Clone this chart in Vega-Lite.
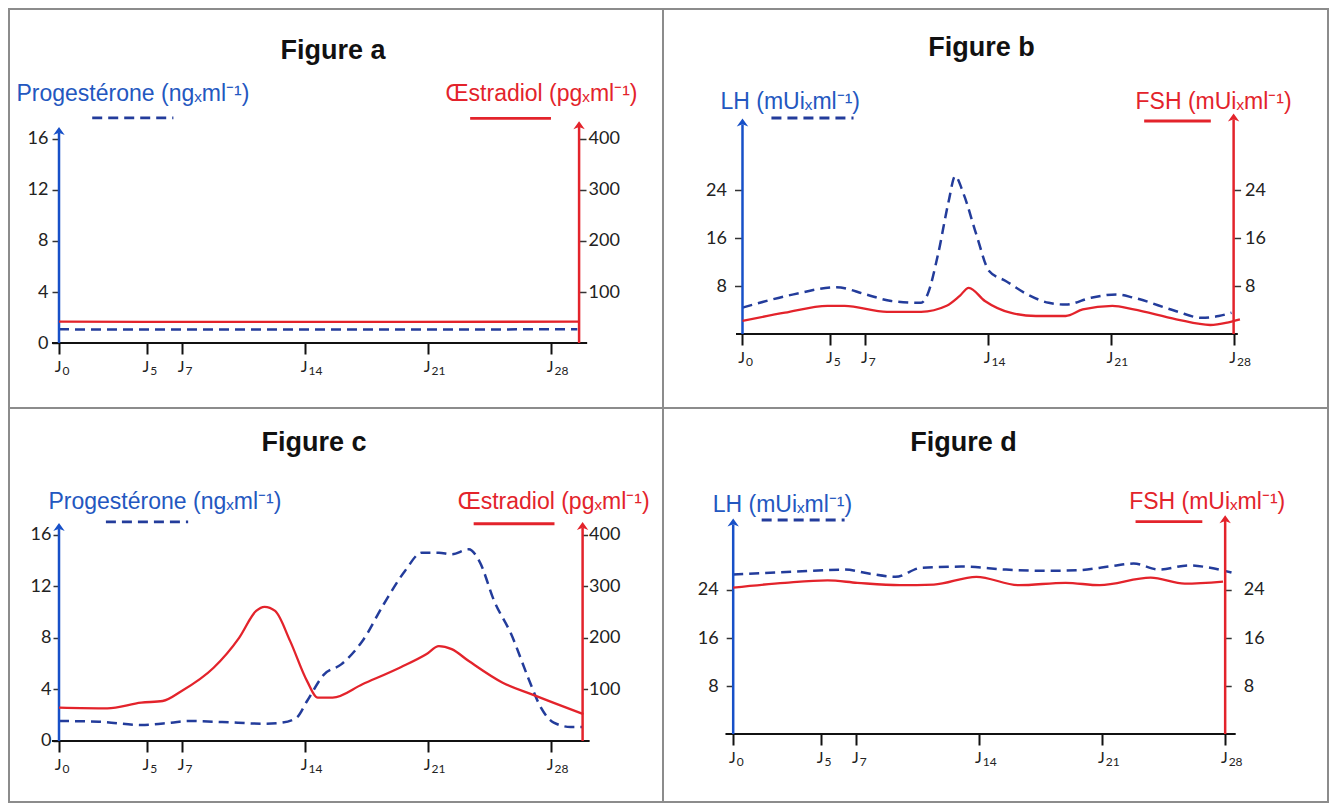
{
  "$schema": "https://vega.github.io/schema/vega-lite/v6.json",
  "padding": {"left": 8, "top": 8, "right": 0, "bottom": 0},
  "background": "white",
  "config": {
    "view": {"stroke": "#8c8c8c", "strokeWidth": 2},
    "axis": {"grid": false, "domain": false, "labelFont": "Lato, DejaVu Sans", "labelFontSize": 18, "labelColor": "#222", "tickColor": "#333", "tickWidth": 1.5, "titleFont": "Liberation Sans", "titleFontSize": 23, "titleFontWeight": "normal", "labelOverlap": false},
    "title": {"font": "Liberation Sans", "fontSize": 27, "fontWeight": "bold", "color": "#111"}
  },
  "data": {"values": [
    {"panel": "a", "hormone": "Progestérone", "day": 0, "value": 1.07},
    {"panel": "a", "hormone": "Progestérone", "day": 10, "value": 1.06},
    {"panel": "a", "hormone": "Progestérone", "day": 20, "value": 1.06},
    {"panel": "a", "hormone": "Progestérone", "day": 29.5, "value": 1.08},
    {"panel": "a", "hormone": "Œstradiol", "day": 0, "value": 41.8},
    {"panel": "a", "hormone": "Œstradiol", "day": 10, "value": 41.5},
    {"panel": "a", "hormone": "Œstradiol", "day": 20, "value": 41.5},
    {"panel": "a", "hormone": "Œstradiol", "day": 29.6, "value": 41.8},

    {"panel": "b", "hormone": "LH", "day": 0, "value": 4.4},
    {"panel": "b", "hormone": "LH", "day": 2.91, "value": 6.6},
    {"panel": "b", "hormone": "LH", "day": 5.34, "value": 7.8},
    {"panel": "b", "hormone": "LH", "day": 7.03, "value": 6.6},
    {"panel": "b", "hormone": "LH", "day": 8.48, "value": 5.5},
    {"panel": "b", "hormone": "LH", "day": 10.18, "value": 5.2},
    {"panel": "b", "hormone": "LH", "day": 10.55, "value": 6.6},
    {"panel": "b", "hormone": "LH", "day": 11.15, "value": 13.3},
    {"panel": "b", "hormone": "LH", "day": 11.76, "value": 22.2},
    {"panel": "b", "hormone": "LH", "day": 12.12, "value": 26.3},
    {"panel": "b", "hormone": "LH", "day": 12.61, "value": 23.3},
    {"panel": "b", "hormone": "LH", "day": 13.33, "value": 16.6},
    {"panel": "b", "hormone": "LH", "day": 14.06, "value": 10.5},
    {"panel": "b", "hormone": "LH", "day": 15.03, "value": 8.8},
    {"panel": "b", "hormone": "LH", "day": 16.24, "value": 6.6},
    {"panel": "b", "hormone": "LH", "day": 17.46, "value": 5.2},
    {"panel": "b", "hormone": "LH", "day": 18.43, "value": 4.9},
    {"panel": "b", "hormone": "LH", "day": 19.88, "value": 6.05},
    {"panel": "b", "hormone": "LH", "day": 21.33, "value": 6.6},
    {"panel": "b", "hormone": "LH", "day": 22.3, "value": 6.05},
    {"panel": "b", "hormone": "LH", "day": 24.73, "value": 3.8},
    {"panel": "b", "hormone": "LH", "day": 26.18, "value": 2.7},
    {"panel": "b", "hormone": "LH", "day": 27.15, "value": 3.0},
    {"panel": "b", "hormone": "LH", "day": 27.88, "value": 3.55},
    {"panel": "b", "hormone": "FSH", "day": 0, "value": 2.2},
    {"panel": "b", "hormone": "FSH", "day": 2.42, "value": 3.55},
    {"panel": "b", "hormone": "FSH", "day": 4.85, "value": 4.7},
    {"panel": "b", "hormone": "FSH", "day": 5.82, "value": 4.7},
    {"panel": "b", "hormone": "FSH", "day": 8.24, "value": 3.7},
    {"panel": "b", "hormone": "FSH", "day": 10.18, "value": 3.7},
    {"panel": "b", "hormone": "FSH", "day": 11.64, "value": 4.7},
    {"panel": "b", "hormone": "FSH", "day": 12.37, "value": 6.3},
    {"panel": "b", "hormone": "FSH", "day": 12.9, "value": 7.7},
    {"panel": "b", "hormone": "FSH", "day": 13.82, "value": 5.5},
    {"panel": "b", "hormone": "FSH", "day": 15.27, "value": 3.55},
    {"panel": "b", "hormone": "FSH", "day": 16.73, "value": 3.0},
    {"panel": "b", "hormone": "FSH", "day": 18.43, "value": 3.0},
    {"panel": "b", "hormone": "FSH", "day": 19.4, "value": 4.1},
    {"panel": "b", "hormone": "FSH", "day": 21.09, "value": 4.7},
    {"panel": "b", "hormone": "FSH", "day": 22.3, "value": 4.1},
    {"panel": "b", "hormone": "FSH", "day": 24.73, "value": 2.45},
    {"panel": "b", "hormone": "FSH", "day": 26.67, "value": 1.5},
    {"panel": "b", "hormone": "FSH", "day": 27.64, "value": 1.9},
    {"panel": "b", "hormone": "FSH", "day": 28.36, "value": 2.45},

    {"panel": "c", "hormone": "Progestérone", "day": 0, "value": 1.55},
    {"panel": "c", "hormone": "Progestérone", "day": 2.26, "value": 1.5},
    {"panel": "c", "hormone": "Progestérone", "day": 4.68, "value": 1.24},
    {"panel": "c", "hormone": "Progestérone", "day": 6.38, "value": 1.42},
    {"panel": "c", "hormone": "Progestérone", "day": 7.35, "value": 1.55},
    {"panel": "c", "hormone": "Progestérone", "day": 9.28, "value": 1.47},
    {"panel": "c", "hormone": "Progestérone", "day": 11.7, "value": 1.34},
    {"panel": "c", "hormone": "Progestérone", "day": 12.67, "value": 1.42},
    {"panel": "c", "hormone": "Progestérone", "day": 13.52, "value": 1.81},
    {"panel": "c", "hormone": "Progestérone", "day": 14.12, "value": 3.1},
    {"panel": "c", "hormone": "Progestérone", "day": 15.09, "value": 5.17},
    {"panel": "c", "hormone": "Progestérone", "day": 16.06, "value": 5.94},
    {"panel": "c", "hormone": "Progestérone", "day": 17.27, "value": 7.75},
    {"panel": "c", "hormone": "Progestérone", "day": 18.48, "value": 10.6},
    {"panel": "c", "hormone": "Progestérone", "day": 19.69, "value": 13.18},
    {"panel": "c", "hormone": "Progestérone", "day": 20.65, "value": 14.6},
    {"panel": "c", "hormone": "Progestérone", "day": 21.62, "value": 14.6},
    {"panel": "c", "hormone": "Progestérone", "day": 22.35, "value": 14.47},
    {"panel": "c", "hormone": "Progestérone", "day": 23.32, "value": 14.86},
    {"panel": "c", "hormone": "Progestérone", "day": 23.92, "value": 13.95},
    {"panel": "c", "hormone": "Progestérone", "day": 24.77, "value": 10.85},
    {"panel": "c", "hormone": "Progestérone", "day": 25.74, "value": 8.27},
    {"panel": "c", "hormone": "Progestérone", "day": 26.7, "value": 4.91},
    {"panel": "c", "hormone": "Progestérone", "day": 27.43, "value": 2.58},
    {"panel": "c", "hormone": "Progestérone", "day": 28.16, "value": 1.42},
    {"panel": "c", "hormone": "Progestérone", "day": 29.12, "value": 1.09},
    {"panel": "c", "hormone": "Progestérone", "day": 29.8, "value": 1.09},
    {"panel": "c", "hormone": "Œstradiol", "day": 0, "value": 64.6},
    {"panel": "c", "hormone": "Œstradiol", "day": 2.75, "value": 63.3},
    {"panel": "c", "hormone": "Œstradiol", "day": 4.68, "value": 74.3},
    {"panel": "c", "hormone": "Œstradiol", "day": 5.9, "value": 77.5},
    {"panel": "c", "hormone": "Œstradiol", "day": 6.98, "value": 96.9},
    {"panel": "c", "hormone": "Œstradiol", "day": 8.8, "value": 142},
    {"panel": "c", "hormone": "Œstradiol", "day": 10.25, "value": 200},
    {"panel": "c", "hormone": "Œstradiol", "day": 11.22, "value": 252},
    {"panel": "c", "hormone": "Œstradiol", "day": 11.7, "value": 260},
    {"panel": "c", "hormone": "Œstradiol", "day": 12.3, "value": 252},
    {"panel": "c", "hormone": "Œstradiol", "day": 13.15, "value": 194},
    {"panel": "c", "hormone": "Œstradiol", "day": 14.12, "value": 116},
    {"panel": "c", "hormone": "Œstradiol", "day": 14.73, "value": 84},
    {"panel": "c", "hormone": "Œstradiol", "day": 15.57, "value": 84},
    {"panel": "c", "hormone": "Œstradiol", "day": 17.27, "value": 110},
    {"panel": "c", "hormone": "Œstradiol", "day": 19.45, "value": 143},
    {"panel": "c", "hormone": "Œstradiol", "day": 20.9, "value": 168},
    {"panel": "c", "hormone": "Œstradiol", "day": 21.62, "value": 184},
    {"panel": "c", "hormone": "Œstradiol", "day": 22.35, "value": 178},
    {"panel": "c", "hormone": "Œstradiol", "day": 23.32, "value": 155},
    {"panel": "c", "hormone": "Œstradiol", "day": 25.25, "value": 113},
    {"panel": "c", "hormone": "Œstradiol", "day": 26.95, "value": 90},
    {"panel": "c", "hormone": "Œstradiol", "day": 28.16, "value": 74},
    {"panel": "c", "hormone": "Œstradiol", "day": 29.85, "value": 52},

    {"panel": "d", "hormone": "LH", "day": 0, "value": 26.6},
    {"panel": "d", "hormone": "LH", "day": 3.43, "value": 27.05},
    {"panel": "d", "hormone": "LH", "day": 6.34, "value": 27.4},
    {"panel": "d", "hormone": "LH", "day": 7.79, "value": 26.7},
    {"panel": "d", "hormone": "LH", "day": 9.24, "value": 26.2},
    {"panel": "d", "hormone": "LH", "day": 10.69, "value": 27.7},
    {"panel": "d", "hormone": "LH", "day": 13.11, "value": 27.9},
    {"panel": "d", "hormone": "LH", "day": 15.53, "value": 27.4},
    {"panel": "d", "hormone": "LH", "day": 17.96, "value": 27.2},
    {"panel": "d", "hormone": "LH", "day": 19.65, "value": 27.3},
    {"panel": "d", "hormone": "LH", "day": 21.58, "value": 28.0},
    {"panel": "d", "hormone": "LH", "day": 22.79, "value": 28.4},
    {"panel": "d", "hormone": "LH", "day": 24.25, "value": 27.4},
    {"panel": "d", "hormone": "LH", "day": 25.94, "value": 28.1},
    {"panel": "d", "hormone": "LH", "day": 27.15, "value": 27.7},
    {"panel": "d", "hormone": "LH", "day": 28.36, "value": 26.9},
    {"panel": "d", "hormone": "FSH", "day": 0, "value": 24.4},
    {"panel": "d", "hormone": "FSH", "day": 2.95, "value": 25.2},
    {"panel": "d", "hormone": "FSH", "day": 5.37, "value": 25.6},
    {"panel": "d", "hormone": "FSH", "day": 7.06, "value": 25.2},
    {"panel": "d", "hormone": "FSH", "day": 9.48, "value": 24.8},
    {"panel": "d", "hormone": "FSH", "day": 11.42, "value": 24.9},
    {"panel": "d", "hormone": "FSH", "day": 13.84, "value": 26.2},
    {"panel": "d", "hormone": "FSH", "day": 16.26, "value": 24.8},
    {"panel": "d", "hormone": "FSH", "day": 18.92, "value": 25.2},
    {"panel": "d", "hormone": "FSH", "day": 20.86, "value": 24.8},
    {"panel": "d", "hormone": "FSH", "day": 23.76, "value": 26.05},
    {"panel": "d", "hormone": "FSH", "day": 25.7, "value": 25.05},
    {"panel": "d", "hormone": "FSH", "day": 27.88, "value": 25.4}
  ]},
  "columns": 2,
  "spacing": 0,
  "bounds": "flush",
  "concat": [
        {
          "width": 654, "height": 399,
          "title": {"text": "Figure a", "frame": "group", "anchor": "middle", "baseline": "middle", "offset": -69, "dx": -3},
          "resolve": {"scale": {"y": "independent", "x": "independent"}},
          "layer": [
            {"layer": [
              {"transform": [{"filter": "datum.panel == 'a' && datum.hormone == 'Progestérone'"}],
               "mark": {"type": "line", "interpolate": "monotone", "color": "#233c9b", "strokeWidth": 2.5, "strokeDash": [10, 6]},
               "encoding": {
                 "x": {"field": "day", "type": "quantitative", "scale": {"domain": [-2.846, 34.376], "nice": false, "zero": false},
                       "axis": {"orient": "bottom", "values": [0, 5, 7, 14, 21, 28], "labelExpr": "'J'", "labelFont": "Lato", "labelFontSize": 16, "labelAlign": "right", "labelOffset": 2, "title": null, "offset": -65, "tickSize": 11, "tickWidth": 2, "tickColor": "#111", "labelPadding": 4}},
                 "y": {"field": "value", "type": "quantitative", "scale": {"domain": [-5.098, 26.196], "nice": false, "zero": false},
                       "axis": {"orient": "left", "values": [0, 4, 8, 12, 16], "offset": -50, "tickSize": 7, "labelPadding": 4, "title": "Progestérone (ngₓml⁻¹)", "titleAngle": 0, "titleAlign": "left", "titleBaseline": "middle", "titleX": -43, "titleY": 84, "titleColor": "#2357c0"}}
               }},
              {"data": {"values": [{}]}, "mark": {"type": "rule", "color": "#111", "strokeWidth": 2},
               "encoding": {"x": {"datum": -0.4, "type": "quantitative", "scale": {"domain": [-2.846, 34.376], "nice": false, "zero": false}}, "x2": {"datum": 30.06},
                            "y": {"datum": 0, "type": "quantitative", "scale": {"domain": [-5.098, 26.196], "nice": false, "zero": false}}}},
              {"data": {"values": [{}]}, "mark": {"type": "rule", "color": "#1750c8", "strokeWidth": 2.5},
               "encoding": {"x": {"datum": 0, "type": "quantitative", "scale": {"domain": [-2.846, 34.376], "nice": false, "zero": false}},
                            "y": {"datum": 0, "type": "quantitative", "scale": {"domain": [-5.098, 26.196], "nice": false, "zero": false}}, "y2": {"datum": 16.49}}},
              {"data": {"values": [{}]}, "mark": {"type": "point", "shape": "M0,-1L1,0.4L0,0L-1,0.4Z", "filled": true, "opacity": 1, "size": 130, "color": "#1750c8"},
               "encoding": {"x": {"datum": 0, "type": "quantitative", "scale": {"domain": [-2.846, 34.376], "nice": false, "zero": false}},
                            "y": {"datum": 16.49, "type": "quantitative", "scale": {"domain": [-5.098, 26.196], "nice": false, "zero": false}}}},
              {"data": {"values": [{}]}, "mark": {"type": "rule", "color": "#233c9b", "strokeWidth": 2.8, "strokeDash": [10, 6]},
               "encoding": {"x": {"datum": 1.89, "type": "quantitative", "scale": {"domain": [-2.846, 34.376], "nice": false, "zero": false}}, "x2": {"datum": 6.51},
                            "y": {"datum": 17.65, "type": "quantitative", "scale": {"domain": [-5.098, 26.196], "nice": false, "zero": false}}}}
            ]},
            {"layer": [
              {"transform": [{"filter": "datum.panel == 'a' && datum.hormone == 'Œstradiol'"}],
               "mark": {"type": "line", "interpolate": "monotone", "color": "#e3232b", "strokeWidth": 2.3},
               "encoding": {
                 "x": {"field": "day", "type": "quantitative", "scale": {"domain": [-2.846, 34.376], "nice": false, "zero": false},
                       "axis": {"orient": "bottom", "values": [0, 5, 7, 14, 21, 28], "format": "d", "labelFont": "Lato", "labelFontSize": 12, "labelAlign": "left", "labelOffset": 3, "title": null, "offset": -65, "tickSize": 11, "tickOpacity": 0, "labelPadding": 11}},
                 "y": {"field": "value", "type": "quantitative", "scale": {"domain": [-127.45, 654.9], "nice": false, "zero": false},
                       "axis": {"orient": "right", "values": [100, 200, 300, 400], "offset": -84, "tickSize": 7, "labelPadding": 2, "title": "Œstradiol (pgₓml⁻¹)", "titleAngle": 0, "titleAlign": "right", "titleBaseline": "middle", "titleX": 58, "titleY": 84, "titleColor": "#e3232b"}}
               }},
              {"data": {"values": [{}]}, "mark": {"type": "rule", "color": "#e3232b", "strokeWidth": 2.5},
               "encoding": {"x": {"datum": 29.6, "type": "quantitative", "scale": {"domain": [-2.846, 34.376], "nice": false, "zero": false}},
                            "y": {"datum": 0, "type": "quantitative", "scale": {"domain": [-127.45, 654.9], "nice": false, "zero": false}}, "y2": {"datum": 423.5}}},
              {"data": {"values": [{}]}, "mark": {"type": "point", "shape": "M0,-1L1,0.4L0,0L-1,0.4Z", "filled": true, "opacity": 1, "size": 130, "color": "#e3232b"},
               "encoding": {"x": {"datum": 29.6, "type": "quantitative", "scale": {"domain": [-2.846, 34.376], "nice": false, "zero": false}},
                            "y": {"datum": 423.5, "type": "quantitative", "scale": {"domain": [-127.45, 654.9], "nice": false, "zero": false}}}},
              {"data": {"values": [{}]}, "mark": {"type": "rule", "color": "#e3232b", "strokeWidth": 2.8},
               "encoding": {"x": {"datum": 23.4, "type": "quantitative", "scale": {"domain": [-2.846, 34.376], "nice": false, "zero": false}}, "x2": {"datum": 28.0},
                            "y": {"datum": 440.4, "type": "quantitative", "scale": {"domain": [-127.45, 654.9], "nice": false, "zero": false}}}}
            ]}
          ]
        },
        {
          "width": 665, "height": 399,
          "title": {"text": "Figure b", "frame": "group", "anchor": "middle", "baseline": "middle", "offset": -66, "dx": -14},
          "resolve": {"scale": {"y": "independent", "x": "independent"}},
          "layer": [
            {"layer": [
              {"transform": [{"filter": "datum.panel == 'b' && datum.hormone == 'LH'"}],
               "mark": {"type": "line", "interpolate": "monotone", "color": "#233c9b", "strokeWidth": 2.5, "strokeDash": [10, 6]},
               "encoding": {
                 "x": {"field": "day", "type": "quantitative", "scale": {"domain": [-4.532, 33.381], "nice": false, "zero": false},
                       "axis": {"orient": "bottom", "values": [0, 5, 7, 14, 21, 28], "labelExpr": "'J'", "labelFont": "Lato", "labelFontSize": 16, "labelAlign": "right", "labelOffset": 2, "title": null, "offset": -74, "tickSize": 11, "tickWidth": 2, "tickColor": "#111", "labelPadding": 4}},
                 "y": {"field": "value", "type": "quantitative", "scale": {"domain": [-12.333, 54.167], "nice": false, "zero": false},
                       "axis": {"orient": "left", "values": [8, 16, 24], "offset": -79.5, "tickSize": 8, "labelPadding": 8, "title": "LH (mUiₓml⁻¹)", "titleAngle": 0, "titleAlign": "left", "titleBaseline": "middle", "titleX": -22.5, "titleY": 92, "titleColor": "#2357c0"}}
               }},
              {"data": {"values": [{}]}, "mark": {"type": "rule", "color": "#111", "strokeWidth": 2},
               "encoding": {"x": {"datum": -0.37, "type": "quantitative", "scale": {"domain": [-4.532, 33.381], "nice": false, "zero": false}}, "x2": {"datum": 28.24},
                            "y": {"datum": 0, "type": "quantitative", "scale": {"domain": [-12.333, 54.167], "nice": false, "zero": false}}}},
              {"data": {"values": [{}]}, "mark": {"type": "rule", "color": "#1750c8", "strokeWidth": 2.5},
               "encoding": {"x": {"datum": 0, "type": "quantitative", "scale": {"domain": [-4.532, 33.381], "nice": false, "zero": false}},
                            "y": {"datum": 0, "type": "quantitative", "scale": {"domain": [-12.333, 54.167], "nice": false, "zero": false}}, "y2": {"datum": 34.95}}},
              {"data": {"values": [{}]}, "mark": {"type": "point", "shape": "M0,-1L1,0.4L0,0L-1,0.4Z", "filled": true, "opacity": 1, "size": 130, "color": "#1750c8"},
               "encoding": {"x": {"datum": 0, "type": "quantitative", "scale": {"domain": [-4.532, 33.381], "nice": false, "zero": false}},
                            "y": {"datum": 34.95, "type": "quantitative", "scale": {"domain": [-12.333, 54.167], "nice": false, "zero": false}}}},
              {"data": {"values": [{}]}, "mark": {"type": "rule", "color": "#233c9b", "strokeWidth": 2.8, "strokeDash": [10, 6]},
               "encoding": {"x": {"datum": 1.65, "type": "quantitative", "scale": {"domain": [-4.532, 33.381], "nice": false, "zero": false}}, "x2": {"datum": 6.33},
                            "y": {"datum": 36.0, "type": "quantitative", "scale": {"domain": [-12.333, 54.167], "nice": false, "zero": false}}}}
            ]},
            {"layer": [
              {"transform": [{"filter": "datum.panel == 'b' && datum.hormone == 'FSH'"}],
               "mark": {"type": "line", "interpolate": "monotone", "color": "#e3232b", "strokeWidth": 2.3},
               "encoding": {
                 "x": {"field": "day", "type": "quantitative", "scale": {"domain": [-4.532, 33.381], "nice": false, "zero": false},
                       "axis": {"orient": "bottom", "values": [0, 5, 7, 14, 21, 28], "format": "d", "labelFont": "Lato", "labelFontSize": 12, "labelAlign": "left", "labelOffset": 3, "title": null, "offset": -74, "tickSize": 11, "tickOpacity": 0, "labelPadding": 11}},
                 "y": {"field": "value", "type": "quantitative", "scale": {"domain": [-12.333, 54.167], "nice": false, "zero": false},
                       "axis": {"orient": "right", "values": [8, 16, 24], "offset": -94.4, "tickSize": 7, "labelPadding": 4, "title": "FSH (mUiₓml⁻¹)", "titleAngle": 0, "titleAlign": "right", "titleBaseline": "middle", "titleX": 57.5, "titleY": 92, "titleColor": "#e3232b"}}
               }},
              {"data": {"values": [{}]}, "mark": {"type": "rule", "color": "#e3232b", "strokeWidth": 2.5},
               "encoding": {"x": {"datum": 28, "type": "quantitative", "scale": {"domain": [-4.532, 33.381], "nice": false, "zero": false}},
                            "y": {"datum": 0, "type": "quantitative", "scale": {"domain": [-12.333, 54.167], "nice": false, "zero": false}}, "y2": {"datum": 35.8}}},
              {"data": {"values": [{}]}, "mark": {"type": "point", "shape": "M0,-1L1,0.4L0,0L-1,0.4Z", "filled": true, "opacity": 1, "size": 130, "color": "#e3232b"},
               "encoding": {"x": {"datum": 28, "type": "quantitative", "scale": {"domain": [-4.532, 33.381], "nice": false, "zero": false}},
                            "y": {"datum": 35.8, "type": "quantitative", "scale": {"domain": [-12.333, 54.167], "nice": false, "zero": false}}}},
              {"data": {"values": [{}]}, "mark": {"type": "rule", "color": "#e3232b", "strokeWidth": 2.8},
               "encoding": {"x": {"datum": 22.9, "type": "quantitative", "scale": {"domain": [-4.532, 33.381], "nice": false, "zero": false}}, "x2": {"datum": 26.7},
                            "y": {"datum": 35.5, "type": "quantitative", "scale": {"domain": [-12.333, 54.167], "nice": false, "zero": false}}}}
            ]}
          ]
        },
        {
          "width": 654, "height": 394,
          "title": {"text": "Figure c", "frame": "group", "anchor": "middle", "baseline": "middle", "offset": -62, "dx": -22},
          "resolve": {"scale": {"y": "independent", "x": "independent"}},
          "layer": [
            {"layer": [
              {"transform": [{"filter": "datum.panel == 'c' && datum.hormone == 'Progestérone'"}],
               "mark": {"type": "line", "interpolate": "monotone", "color": "#233c9b", "strokeWidth": 2.5, "strokeDash": [10, 6]},
               "encoding": {
                 "x": {"field": "day", "type": "quantitative", "scale": {"domain": [-2.846, 34.376], "nice": false, "zero": false},
                       "axis": {"orient": "bottom", "values": [0, 5, 7, 14, 21, 28], "labelExpr": "'J'", "labelFont": "Lato", "labelFontSize": 16, "labelAlign": "right", "labelOffset": 2, "title": null, "offset": -61, "tickSize": 11, "tickWidth": 2, "tickColor": "#111", "labelPadding": 4}},
                 "y": {"field": "value", "type": "quantitative", "scale": {"domain": [-4.729, 25.814], "nice": false, "zero": false},
                       "axis": {"orient": "left", "values": [0, 4, 8, 12, 16], "offset": -50, "tickSize": 6, "labelPadding": 2, "title": "Progestérone (ngₓml⁻¹)", "titleAngle": 0, "titleAlign": "left", "titleBaseline": "middle", "titleX": -11, "titleY": 93, "titleColor": "#2357c0"}}
               }},
              {"data": {"values": [{}]}, "mark": {"type": "rule", "color": "#111", "strokeWidth": 2},
               "encoding": {"x": {"datum": -0.4, "type": "quantitative", "scale": {"domain": [-2.846, 34.376], "nice": false, "zero": false}}, "x2": {"datum": 30.2},
                            "y": {"datum": 0, "type": "quantitative", "scale": {"domain": [-4.729, 25.814], "nice": false, "zero": false}}}},
              {"data": {"values": [{}]}, "mark": {"type": "rule", "color": "#1750c8", "strokeWidth": 2.5},
               "encoding": {"x": {"datum": 0, "type": "quantitative", "scale": {"domain": [-2.846, 34.376], "nice": false, "zero": false}},
                            "y": {"datum": 0, "type": "quantitative", "scale": {"domain": [-4.729, 25.814], "nice": false, "zero": false}}, "y2": {"datum": 16.46}}},
              {"data": {"values": [{}]}, "mark": {"type": "point", "shape": "M0,-1L1,0.4L0,0L-1,0.4Z", "filled": true, "opacity": 1, "size": 130, "color": "#1750c8"},
               "encoding": {"x": {"datum": 0, "type": "quantitative", "scale": {"domain": [-2.846, 34.376], "nice": false, "zero": false}},
                            "y": {"datum": 16.46, "type": "quantitative", "scale": {"domain": [-4.729, 25.814], "nice": false, "zero": false}}}},
              {"data": {"values": [{}]}, "mark": {"type": "rule", "color": "#233c9b", "strokeWidth": 2.8, "strokeDash": [10, 6]},
               "encoding": {"x": {"datum": 2.67, "type": "quantitative", "scale": {"domain": [-2.846, 34.376], "nice": false, "zero": false}}, "x2": {"datum": 7.35},
                            "y": {"datum": 16.98, "type": "quantitative", "scale": {"domain": [-4.729, 25.814], "nice": false, "zero": false}}}}
            ]},
            {"layer": [
              {"transform": [{"filter": "datum.panel == 'c' && datum.hormone == 'Œstradiol'"}],
               "mark": {"type": "line", "interpolate": "monotone", "color": "#e3232b", "strokeWidth": 2.3},
               "encoding": {
                 "x": {"field": "day", "type": "quantitative", "scale": {"domain": [-2.846, 34.376], "nice": false, "zero": false},
                       "axis": {"orient": "bottom", "values": [0, 5, 7, 14, 21, 28], "format": "d", "labelFont": "Lato", "labelFontSize": 12, "labelAlign": "left", "labelOffset": 3, "title": null, "offset": -61, "tickSize": 11, "tickOpacity": 0, "labelPadding": 11}},
                 "y": {"field": "value", "type": "quantitative", "scale": {"domain": [-118.2, 645.3], "nice": false, "zero": false},
                       "axis": {"orient": "right", "values": [100, 200, 300, 400], "offset": -80.4, "tickSize": 5, "labelPadding": 1, "title": "Œstradiol (pgₓml⁻¹)", "titleAngle": 0, "titleAlign": "right", "titleBaseline": "middle", "titleX": 66.5, "titleY": 93, "titleColor": "#e3232b"}}
               }},
              {"data": {"values": [{}]}, "mark": {"type": "rule", "color": "#e3232b", "strokeWidth": 2.5},
               "encoding": {"x": {"datum": 29.8, "type": "quantitative", "scale": {"domain": [-2.846, 34.376], "nice": false, "zero": false}},
                            "y": {"datum": 0, "type": "quantitative", "scale": {"domain": [-118.2, 645.3], "nice": false, "zero": false}}, "y2": {"datum": 413.4}}},
              {"data": {"values": [{}]}, "mark": {"type": "point", "shape": "M0,-1L1,0.4L0,0L-1,0.4Z", "filled": true, "opacity": 1, "size": 130, "color": "#e3232b"},
               "encoding": {"x": {"datum": 29.8, "type": "quantitative", "scale": {"domain": [-2.846, 34.376], "nice": false, "zero": false}},
                            "y": {"datum": 413.4, "type": "quantitative", "scale": {"domain": [-118.2, 645.3], "nice": false, "zero": false}}}},
              {"data": {"values": [{}]}, "mark": {"type": "rule", "color": "#e3232b", "strokeWidth": 2.8},
               "encoding": {"x": {"datum": 23.6, "type": "quantitative", "scale": {"domain": [-2.846, 34.376], "nice": false, "zero": false}}, "x2": {"datum": 28.2},
                            "y": {"datum": 421, "type": "quantitative", "scale": {"domain": [-118.2, 645.3], "nice": false, "zero": false}}}}
            ]}
          ]
        },
        {
          "width": 665, "height": 394,
          "title": {"text": "Figure d", "frame": "group", "anchor": "middle", "baseline": "middle", "offset": -62, "dx": -32},
          "resolve": {"scale": {"y": "independent", "x": "independent"}},
          "layer": [
            {"layer": [
              {"transform": [{"filter": "datum.panel == 'd' && datum.hormone == 'LH'"}],
               "mark": {"type": "line", "interpolate": "monotone", "color": "#233c9b", "strokeWidth": 2.5, "strokeDash": [10, 6]},
               "encoding": {
                 "x": {"field": "day", "type": "quantitative", "scale": {"domain": [-3.995, 33.853], "nice": false, "zero": false},
                       "axis": {"orient": "bottom", "values": [0, 5, 7, 14, 21, 28], "labelExpr": "'J'", "labelFont": "Lato", "labelFontSize": 16, "labelAlign": "right", "labelOffset": 2, "title": null, "offset": -68, "tickSize": 11, "tickWidth": 2, "tickColor": "#111", "labelPadding": 4}},
                 "y": {"field": "value", "type": "quantitative", "scale": {"domain": [-11.333, 54.333], "nice": false, "zero": false},
                       "axis": {"orient": "left", "values": [8, 16, 24], "offset": -70.2, "tickSize": 7, "labelPadding": 8, "title": "LH (mUiₓml⁻¹)", "titleAngle": 0, "titleAlign": "left", "titleBaseline": "middle", "titleX": -21, "titleY": 96, "titleColor": "#2357c0"}}
               }},
              {"data": {"values": [{}]}, "mark": {"type": "rule", "color": "#111", "strokeWidth": 2},
               "encoding": {"x": {"datum": -0.44, "type": "quantitative", "scale": {"domain": [-3.995, 33.853], "nice": false, "zero": false}}, "x2": {"datum": 28.6},
                            "y": {"datum": 0, "type": "quantitative", "scale": {"domain": [-11.333, 54.333], "nice": false, "zero": false}}}},
              {"data": {"values": [{}]}, "mark": {"type": "rule", "color": "#1750c8", "strokeWidth": 2.5},
               "encoding": {"x": {"datum": 0, "type": "quantitative", "scale": {"domain": [-3.995, 33.853], "nice": false, "zero": false}},
                            "y": {"datum": 0, "type": "quantitative", "scale": {"domain": [-11.333, 54.333], "nice": false, "zero": false}}, "y2": {"datum": 34.95}}},
              {"data": {"values": [{}]}, "mark": {"type": "point", "shape": "M0,-1L1,0.4L0,0L-1,0.4Z", "filled": true, "opacity": 1, "size": 130, "color": "#1750c8"},
               "encoding": {"x": {"datum": 0, "type": "quantitative", "scale": {"domain": [-3.995, 33.853], "nice": false, "zero": false}},
                            "y": {"datum": 34.95, "type": "quantitative", "scale": {"domain": [-11.333, 54.333], "nice": false, "zero": false}}}},
              {"data": {"values": [{}]}, "mark": {"type": "rule", "color": "#233c9b", "strokeWidth": 2.8, "strokeDash": [10, 6]},
               "encoding": {"x": {"datum": 1.62, "type": "quantitative", "scale": {"domain": [-3.995, 33.853], "nice": false, "zero": false}}, "x2": {"datum": 6.34},
                            "y": {"datum": 35.67, "type": "quantitative", "scale": {"domain": [-11.333, 54.333], "nice": false, "zero": false}}}}
            ]},
            {"layer": [
              {"transform": [{"filter": "datum.panel == 'd' && datum.hormone == 'FSH'"}],
               "mark": {"type": "line", "interpolate": "monotone", "color": "#e3232b", "strokeWidth": 2.3},
               "encoding": {
                 "x": {"field": "day", "type": "quantitative", "scale": {"domain": [-3.995, 33.853], "nice": false, "zero": false},
                       "axis": {"orient": "bottom", "values": [0, 5, 7, 14, 21, 28], "format": "d", "labelFont": "Lato", "labelFontSize": 12, "labelAlign": "left", "labelOffset": 3, "title": null, "offset": -68, "tickSize": 11, "tickOpacity": 0, "labelPadding": 11}},
                 "y": {"field": "value", "type": "quantitative", "scale": {"domain": [-11.333, 54.333], "nice": false, "zero": false},
                       "axis": {"orient": "right", "values": [8, 16, 24], "offset": -102.8, "tickSize": 6, "labelPadding": 12, "title": "FSH (mUiₓml⁻¹)", "titleAngle": 0, "titleAlign": "right", "titleBaseline": "middle", "titleX": 59.5, "titleY": 93, "titleColor": "#e3232b"}}
               }},
              {"data": {"values": [{}]}, "mark": {"type": "rule", "color": "#e3232b", "strokeWidth": 2.5},
               "encoding": {"x": {"datum": 28, "type": "quantitative", "scale": {"domain": [-3.995, 33.853], "nice": false, "zero": false}},
                            "y": {"datum": 0, "type": "quantitative", "scale": {"domain": [-11.333, 54.333], "nice": false, "zero": false}}, "y2": {"datum": 35.5}}},
              {"data": {"values": [{}]}, "mark": {"type": "point", "shape": "M0,-1L1,0.4L0,0L-1,0.4Z", "filled": true, "opacity": 1, "size": 130, "color": "#e3232b"},
               "encoding": {"x": {"datum": 28, "type": "quantitative", "scale": {"domain": [-3.995, 33.853], "nice": false, "zero": false}},
                            "y": {"datum": 35.5, "type": "quantitative", "scale": {"domain": [-11.333, 54.333], "nice": false, "zero": false}}}},
              {"data": {"values": [{}]}, "mark": {"type": "rule", "color": "#e3232b", "strokeWidth": 2.8},
               "encoding": {"x": {"datum": 22.9, "type": "quantitative", "scale": {"domain": [-3.995, 33.853], "nice": false, "zero": false}}, "x2": {"datum": 26.7},
                            "y": {"datum": 35.38, "type": "quantitative", "scale": {"domain": [-11.333, 54.333], "nice": false, "zero": false}}}}
            ]}
          ]
        }
  ]
}
